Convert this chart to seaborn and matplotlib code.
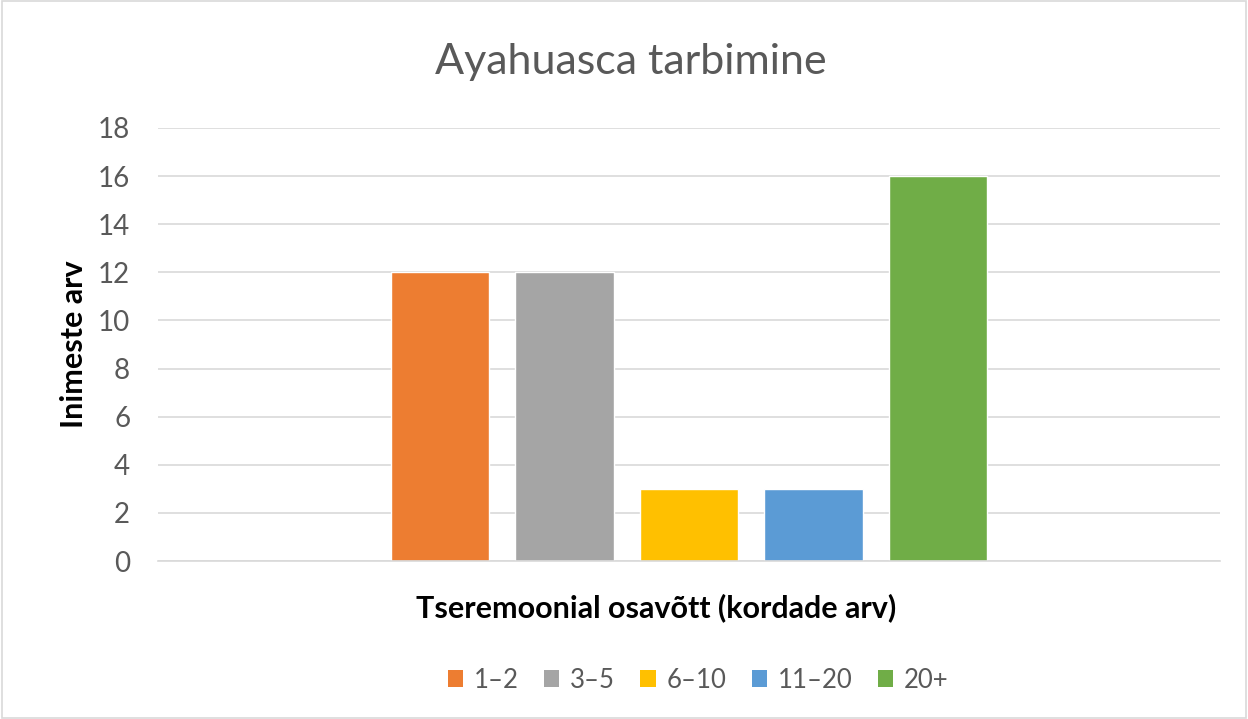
import matplotlib
matplotlib.use("Agg")
import matplotlib.pyplot as plt
import seaborn as sns
import pandas as pd
from matplotlib.patches import Rectangle

categories = ["Ayahuasca tarbimine"]
series = ["1–2", "3–5", "6–10", "11–20", "20+"]
values = [12, 12, 3, 3, 16]
colors = ["#ED7D31", "#A5A5A5", "#FFC000", "#5B9BD5", "#70AD47"]
yticks = [0, 2, 4, 6, 8, 10, 12, 14, 16, 18]

sns.set_theme(style="white")
plt.rcParams["font.family"] = ["Lato", "DejaVu Sans"]

df = pd.DataFrame({"cat": categories * len(series), "series": series, "value": values})

fig = plt.figure(figsize=(12.48, 7.19), dpi=100)
ax = fig.add_axes([158/1248, 1-561/719, (1220-158)/1248, (561-128)/719])

sns.barplot(data=df, x="cat", y="value", hue="series", hue_order=series,
            palette=colors, width=0.586, gap=0.21, saturation=1, ax=ax,
            legend=False)

ax.set_xlim(-0.5, 0.5)
ax.set_ylim(0, 18)
ax.set_yticks(yticks)
ax.set_yticklabels([str(t) for t in yticks], fontsize=20, color="#595959")
ax.set_xticks([])
ax.yaxis.grid(True, color="#D9D9D9", linewidth=1.2)
ax.set_axisbelow(True)
for s in ["top", "right", "left"]:
    ax.spines[s].set_visible(False)
ax.spines["bottom"].set_color("#D9D9D9")
ax.spines["bottom"].set_linewidth(1.2)
ax.tick_params(axis="y", length=0, pad=20)

ax.set_ylabel("Inimeste arv", fontsize=22, fontweight="bold", color="black")
ax.yaxis.set_label_coords((88 - 158) / 1062, 0.5)
ax.set_xlabel("Tseremoonial osavõtt (kordade arv)", fontsize=22, fontweight="bold",
              color="black")
ax.xaxis.set_label_coords((656 - 158) / 1062, -(593 - 561) / 433)

fig.text(631/1248, 1 - 62/719, "Ayahuasca tarbimine",
         ha="center", va="center", fontsize=31, color="#595959")

handles = [Rectangle((0, 0), 1, 1, facecolor=c, edgecolor="none") for c in colors]
fig.legend(handles, series, loc="center", bbox_to_anchor=(698/1248, 1-680/719),
           ncol=5, frameon=False, fontsize=18.5, labelcolor="#595959",
           handlelength=0.6, handleheight=0.6, handletextpad=0.4,
           columnspacing=1.0, borderpad=0, borderaxespad=0)

fig.patches.append(Rectangle((0.002, 0.002), 0.996, 0.996, transform=fig.transFigure,
                             fill=False, edgecolor="#D9D9D9", linewidth=1.2))

fig.savefig("out.png", dpi=100, facecolor="white")
